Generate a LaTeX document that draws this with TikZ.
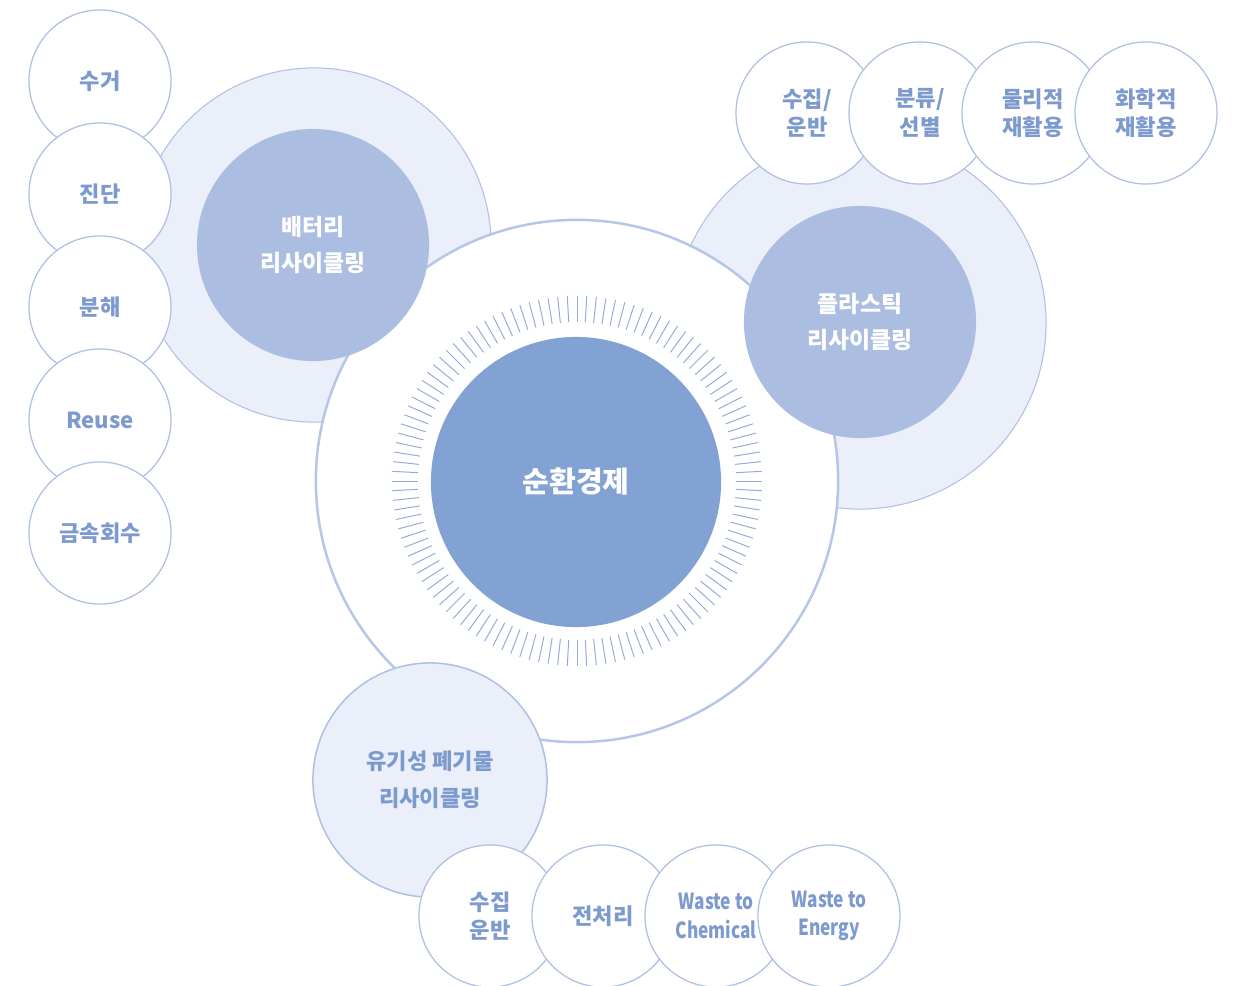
\documentclass[tikz,border=0pt]{standalone}
\usepackage{fontspec}
\usepackage{graphicx}
\setmainfont{Noto Sans CJK KR}
\definecolor{ctext}{HTML}{7D9ACE}
\definecolor{cline}{HTML}{AEC0E4}
\definecolor{clight}{HTML}{EAEFF9}
\definecolor{cmid}{HTML}{ABBEE1}
\definecolor{cdark}{HTML}{82A2D3}
\definecolor{ctick}{HTML}{93AADA}
\definecolor{cbig}{HTML}{B5C6E7}
\newcommand{\narrowtxt}[1]{\scalebox{0.78}[1]{#1}}
\tikzset{
  smallc/.style={circle, draw=cline, line width=0.9pt, fill=white, minimum size=1.42in, inner sep=0pt, outer sep=0pt, text=ctext, align=center, font=\fontsize{16}{20.5}\selectfont\bfseries},
  lightc/.style={circle, draw=cline, line width=0.75pt, fill=clight, inner sep=0pt, outer sep=0pt},
  midc/.style={circle, fill=cmid, inner sep=0pt, outer sep=0pt, minimum size=2.32in, text=white, align=center, font=\fontsize{16.5}{26.6}\selectfont\bfseries},
  tickline/.style={draw=ctick, line width=0.7pt},
}
\begin{document}
\begin{tikzpicture}[x=0.01in, y=-0.01in]
\useasboundingbox (0,0) rectangle (1233,986);
\clip (0,0) rectangle (1233,986);
% light outer rings
\node[lightc, minimum size=3.54in] (batring) at (314,245) {};
\node[lightc, minimum size=3.72in] (plaring) at (860,323) {};
% central circle
\node[circle, draw=cbig, line width=1.8pt, fill=white, minimum size=5.22in, inner sep=0pt] (big) at (577,481) {};
\foreach \a in {0,3,...,357}
  \draw[tickline, shift={(big.center)}] (\a:159) -- (\a:185);
\node[circle, fill=cdark, minimum size=2.90in, inner sep=0pt, text=white, font=\fontsize{21}{24}\selectfont\bfseries] (core) at (576,482) {순환경제};
% sector circles
\node[midc] (bat) at (313,245) {배터리\\리사이클링};
\node[midc] (pla) at (860,322) {플라스틱\\리사이클링};
\node[circle, draw=cline, line width=1.1pt, fill=clight, minimum size=2.34in, inner sep=0pt, text=ctext, align=center, font=\fontsize{16}{26.6}\selectfont\bfseries] (org) at (430,780) {유기성 폐기물\\리사이클링};
% battery steps
\node[smallc] (b1) at (100,81) {수거};
\node[smallc] (b2) at (100,194) {진단};
\node[smallc] (b3) at (100,307) {분해};
\node[smallc] (b4) at (100,420) {Reuse};
\node[smallc] (b5) at (100,533) {금속회수};
% plastic steps
\node[smallc] (p1) at (807,113) {수집/\\운반};
\node[smallc] (p2) at (920,113) {분류/\\선별};
\node[smallc] (p3) at (1033,113) {물리적\\재활용};
\node[smallc] (p4) at (1146,113) {화학적\\재활용};
% organic steps
\node[smallc] (o1) at (490,916) {수집\\운반};
\node[smallc] (o2) at (603,916) {전처리};
\node[smallc] (o3) at (716,916) {\narrowtxt{Waste to}\\\narrowtxt{Chemical}};
\node[smallc] (o4) at (829,916) {\narrowtxt{Waste to}\\\narrowtxt{Energy}};
\end{tikzpicture}
\end{document}
